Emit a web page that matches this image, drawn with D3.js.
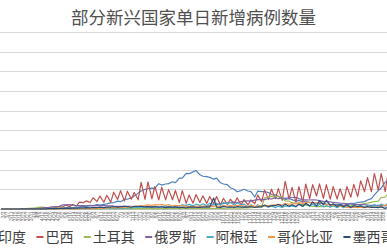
<!DOCTYPE html>
<meta charset="utf-8">
<style>
body { margin: 0; background: #fff; }
svg { display: block; font-family: "Noto Sans CJK SC", "Noto Sans", sans-serif; }
.grid line { stroke: #d9d9d9; stroke-width: 1; }
.xaxis text { fill: #6f6f6f; font-size: 5px; }
.xaxis path { stroke: #bfbfbf; }
.series path { fill: none; stroke-width: 1.2; stroke-linejoin: round; }
</style>
<svg class="chart" width="387" height="248"></svg>
<script src="https://d3js.org/d3.v7.min.js"></script>
<script>

var svg = d3.select(".chart"),
    width = +svg.attr("width"),
    height = +svg.attr("height");

// categories: one sample on Sunday and one on Wednesday of each week (new cases, thousands)
var firstSunday = new Date(2020, 2, 1);
var sampleCount = 114;

var names = ["印度", "巴西", "土耳其", "俄罗斯", "阿根廷", "哥伦比亚", "墨西哥"];
var colors = ["#4f81bd", "#c0504d", "#9bbb59", "#8064a2", "#4bacc6", "#f79646", "#2c4d75"];

var india = [0,0, 0,0, 0,0, 0.1,0.1, 0.2,0.4, 0.5,0.5, 0.9,1.1, 1.3,1.5, 1.9,1.9, 2.6,3.6,
  4.2,3.5, 5,5.6, 6.8,6.6, 8.4,8.9, 10.9,9.9, 11.9,12.9, 15.4,15.9, 19.9,18.6, 24.8,24.9, 28.6,32.7,
  40.4,45.7, 50,52.1, 52.9,52.5, 64.4,60.9, 63.5,64.5, 69.2,67.2, 78.7,78.4, 90.6,89.7, 94.4,97.9, 86.9,83.3,
  82.2,80.5, 75.8,78.5, 66.7,63.5, 61.9,54, 50.1,43.9, 46.9,50.2, 45.7,44.3, 30.5,45.6, 44.1,44.5, 41.8,36.6,
  36,31.5, 27.1,24, 26.6,23.9, 20,21.8, 18.2,20.3, 16.3,15.9, 15.1,13.8, 14.8,12.7, 11.4,11, 12.1,11.1,
  9.1,11.6, 14.3,13.7, 16.6,17.4, 18.7,22.9, 26.3,35.9, 46.9,53.5, 68,72.3];

var brazil = [0,0, 0,0, 0.1,0.1, 0.4,0.6, 0.5,1.1, 0.9,1.8, 1.2,1.9, 1.9,2.7, 4,6.3, 4.6,10.5,
  5.6,11.4, 7.6,17.4, 16,20.6, 16.4,28.6, 18.9,32.9, 17.1,34.9, 17.5,42.7, 24,46.7, 20.2,45.3, 24.8,41.9,
  23.5,67.9, 24.6,69.1, 25.8,57.2, 23,55.2, 23.1,49.3, 23.4,47.1, 16.2,46.9, 14.5,35.8, 14.8,36.7, 16.4,33.5,
  14.3,32, 13.4,31.6, 10.2,27.2, 10.9,24.8, 13.5,28.6, 10.1,23.9, 10.6,23, 13.4,35.3, 18.6,48, 24.5,50.4,
  26.3,51.8, 21.8,70.6, 25,55.2, 17,56.8, 17.3,63.5, 25.8,61.9, 33,64, 27,61.9, 25,56.9, 25.4,51.5,
  23,56.8, 29.9,62.7, 31.3,71.7, 44,79.9, 43.8,90.3, 47.8,89.9, 44.3,90.6];

var turkey = [0,0, 0,0, 0,0.2, 0.3,0.6, 1.8,2.1, 3.1,4.1, 5,4.3, 3.8,3.1, 2.4,2.1, 1.6,1.8,
  1.5,1.7, 1.4,1, 1.1,1.2, 0.8,1, 1,1.2, 1.5,1.4, 1.2,1.2, 1.3,1.2, 1.1,1.1, 1,0.9,
  0.9,1, 0.9,1.2, 1,1.1, 1.2,1.2, 1.2,1.3, 1.3,1.5, 1.6,1.6, 1.7,1.7, 1.7,1.8, 1.6,1.7,
  1.5,1.5, 1.4,1.6, 1.4,1.7, 1.9,2, 2.2,2.3, 2.4,2.7, 3.1,3.4, 3.8,4, 5.4,28.4, 31.2,31.9,
  30.4,32.7, 29.6,20.3, 19.8,16, 14.2,11.9, 10.9,9.9, 8.5,6.5, 6.1,6, 6.5,6.3, 6.2,7.8, 7.3,7.3,
  7.6,8.1, 8.3,9.8, 11.1,11.8, 14,15.1, 17.6,18.9, 20,29.7, 30,39.3];

var russia = [0,0, 0,0, 0,0, 0.1,0.2, 0.3,0.5, 1.2,1.5, 2.6,3.4, 4.3,5.2, 6.4,6.4, 10.6,10.6,
  11,10, 8.9,8.8, 8.6,8.3, 9,8.5, 8.9,8.4, 8.8,7.8, 7.7,7.2, 6.8,6.5, 6.7,6.6, 6.6,6.4,
  6,5.8, 5.6,5.5, 5.4,5.2, 5.2,5.1, 4.9,4.8, 4.9,4.7, 4.9,4.9, 5.2,5.1, 5.4,5.6, 6.1,6.4,
  7.9,8.5, 10.9,11.1, 13.6,13.9, 15.9,16.3, 17.3,16.5, 18.7,19.8, 20.9,20, 22.6,23.6, 24.6,23.7, 26.7,25.3,
  28.8,26.1, 28.6,27, 28.9,29.3, 29.4,26.5, 23.4,23.5, 22.9,23.3, 22.9,21.1, 19.2,19, 18.1,16.6, 15.9,14.9,
  14.4,13.2, 12.9,11.7, 11.5,11, 11.2,10, 9.4,9.3, 9.1,9.1, 8.6,8.3];

var argentina = [0,0, 0,0, 0,0, 0.1,0.1, 0.1,0.1, 0.1,0.1, 0.1,0.1, 0.1,0.1, 0.1,0.1, 0.1,0.2,
  0.2,0.3, 0.4,0.5, 0.6,0.8, 0.8,0.9, 1,1.2, 1.2,1.4, 1.5,2.6, 2.1,2.6, 2.4,3.6, 2.7,4.5,
  4,4.9, 5,6.1, 3.7,6.7, 5,7.5, 4.4,6.8, 5.5,8.7, 7.4,10.5, 9.1,11.9, 7.9,12.3, 9.1,13.5,
  9,14.4, 10.7,14.3, 9.5,16.4, 12.9,17.1, 9.3,15.2, 10.8,12.4, 4.9,11.1, 5.1,10.6, 4.8,8.2, 4.3,7.8,
  3.4,7.4, 3.9,7.8, 5.7,7.8, 5.3,11.7, 6.7,13.9, 7.5,12, 6,11.6, 5.1,8.9, 4.3,8.5, 3.5,6.9,
  3.6,7.6, 4.3,8, 3.6,8.9, 4.5,9.8, 5.5,11.2, 6,12.9, 7.7,16.1];

var colombia = [0,0, 0,0, 0,0, 0.1,0.1, 0.1,0.1, 0.1,0.2, 0.1,0.2, 0.2,0.3, 0.2,0.3, 0.3,0.4,
  0.5,0.6, 0.4,0.6, 0.7,0.9, 1.2,1.2, 1.5,1.4, 2,2.2, 3.3,3.4, 3.2,4, 4,5.2, 5.9,6.2,
  8.2,7.9, 8.7,10.3, 9.1,10.9, 10.6,12.1, 8.6,11.3, 7.7,9.5, 7.9,9.6, 5.3,7.6, 4.9,6.9, 6.5,7.6,
  6.9,7.4, 6.5,8.2, 6.4,8.6, 6.7,8.4, 7.2,9, 8.4,7.1, 5.7,9.1, 6.8,7.4, 8.4,8.1, 8.6,9.9,
  10.6,10.1, 11.3,13.8, 12.4,13.1, 13.7,16.3, 13.5,16.9, 16.9,16.7, 14.6,17.1, 12.6,11.8, 10.4,10.1, 7.3,7.8,
  6,4.2, 3.6,4.9, 4.1,4.8, 3.6,4.3, 4,4.5, 5.3,6.4, 9.8,9.9];

var mexico = [0,0, 0,0, 0,0, 0.1,0.1, 0.1,0.2, 0.3,0.4, 0.4,0.5, 0.8,0.9, 1.2,1.5, 1.4,1.6,
  1.5,1.9, 2.4,2.7, 3,3.4, 2.9,3.9, 3.5,4.9, 3.5,4.6, 5,6.3, 4.4,5.7, 6.7,6.3, 4.5,7,
  6.3,6.9, 5.4,5.9, 4.8,6.1, 4.4,5.8, 3.6,5.3, 4.4,5.5, 3.1,4.5, 2.6,4.7, 4.6,4.4, 3.9,5,
  5.6,4.8, 28.1,4.9, 4.2,6.8, 4.5,5.6, 4.2,6, 5,5.6, 4.6,6.4, 3.9,5.5, 6.1,10.3, 5.7,8.6,
  8.4,11.9, 6.7,12.3, 6.8,10.8, 6.2,12.4, 6.9,14.4, 7.4,18.1, 7.5,21.4, 10.8,22.3, 9,13.5, 6.6,11.2,
  6.1,10.7, 3.9,8.3, 6.5,7.8, 3.8,6.4, 3.9,4.7, 3.5,5.5, 1.6,4.9];

var seriesValues = [india, brazil, turkey, russia, argentina, colombia, mexico];
var yTicks = [0, 50, 100, 150, 200, 250, 300, 350, 400, 450];

var dates = d3.range(sampleCount).map(function(i) {
  return d3.timeDay.offset(firstSunday, Math.floor(i / 2) * 7 + (i % 2) * 3);
});

var x = d3.scaleTime()
    .domain([new Date(2020, 1, 29), new Date(2021, 2, 31)])
    .range([0, 396 * 0.98]);

var y = d3.scaleLinear()
    .domain([0, 450])
    .range([209, 32]);

// title
svg.append("text")
    .attr("x", width / 2)
    .attr("y", 24)
    .attr("text-anchor", "middle")
    .attr("fill", "#505050")
    .style("font-size", "17.5px")
    .text("部分新兴国家单日新增病例数量");

// gridlines
svg.append("g")
    .attr("class", "grid")
  .selectAll("line")
  .data(yTicks.slice(1))
  .enter().append("line")
    .attr("x1", 0)
    .attr("x2", width)
    .attr("y1", function(d) { return Math.round(y(d)) + 0.5; })
    .attr("y2", function(d) { return Math.round(y(d)) + 0.5; });

// x axis with rotated daily labels
var tickDates = d3.timeDay.range(new Date(2020, 2, 3), new Date(2021, 2, 29), 4);
var xAxis = svg.append("g")
    .attr("class", "xaxis")
    .attr("transform", "translate(0," + (y(0) + 0.5) + ")")
    .call(d3.axisBottom(x)
      .tickValues(tickDates)
      .tickSize(0)
      .tickFormat(d3.timeFormat("%-m/%-d")));
xAxis.select(".domain").attr("d", "M0,0H" + width);
xAxis.selectAll("text")
    .attr("transform", "rotate(-90)")
    .attr("x", -2)
    .attr("y", 0)
    .attr("dy", "0.35em")
    .attr("text-anchor", "end");

// lines
var line = d3.line()
    .x(function(d, i) { return x(dates[i]); })
    .y(function(d) { return y(d); });

svg.append("g")
    .attr("class", "series")
  .selectAll("path")
  .data(seriesValues)
  .enter().append("path")
    .attr("stroke", function(d, i) { return colors[i]; })
    .attr("d", line);

// legend
var legend = svg.append("g").attr("class", "legend");
var cursor = -11;
names.forEach(function(name, i) {
  var item = legend.append("g").attr("transform", "translate(" + cursor + ",237)");
  item.append("line")
      .attr("x1", 0).attr("x2", 7)
      .attr("stroke", colors[i])
      .attr("stroke-width", 2);
  var t = item.append("text")
      .attr("x", 9)
      .attr("y", 5)
      .attr("fill", "#404040")
      .style("font-size", "14px")
      .text(name);
  cursor += 9 + t.node().getComputedTextLength() + 10.4;
});

</script>
